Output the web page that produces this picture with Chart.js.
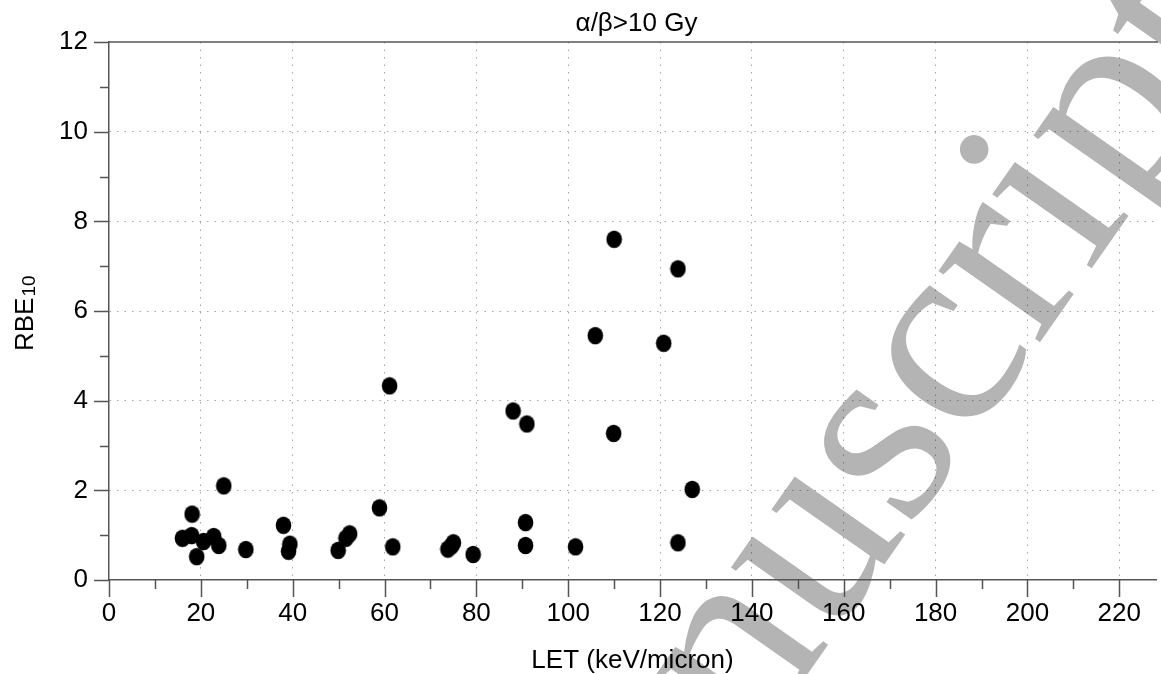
<!DOCTYPE html>
<html>
<head>
<meta charset="utf-8">
<script src="https://cdn.jsdelivr.net/npm/chart.js@4/dist/chart.umd.min.js"></script>
<style>
  html, body { margin: 0; padding: 0; background: #fff; overflow: hidden; }
  #wrap { width: 1161px; height: 674px; position: relative; }
</style>
</head>
<body>
<div id="wrap"><canvas id="chart"></canvas></div>
<script>
// LET (keV/micron) vs RBE10, alpha/beta > 10 Gy
const letValues = [16.0, 18.1, 18.0, 19.1, 20.6, 22.8, 23.9, 25.0, 29.8, 38.0, 39.4, 39.1,
  49.9, 51.6, 52.4, 58.9, 61.1, 61.8, 73.8, 74.6, 75.0, 79.3, 88.0, 91.0, 90.7, 90.7,
  101.6, 105.9, 110.0, 109.9, 120.8, 123.9, 123.9, 127.0];
const rbeValues = [0.93, 1.47, 0.99, 0.52, 0.86, 0.97, 0.77, 2.10, 0.68, 1.22, 0.80, 0.64,
  0.66, 0.93, 1.03, 1.61, 4.33, 0.74, 0.69, 0.76, 0.83, 0.57, 3.77, 3.48, 1.28, 0.77,
  0.74, 5.45, 7.60, 3.27, 5.28, 6.94, 0.83, 2.02];

const chartTitle = "α/β>10 Gy";
const xTitle = "LET (keV/micron)";
const yTitle = ["RBE", "10"];
const watermark = "Manuscript";

const FONT = "'Liberation Sans', Arial, Helvetica, sans-serif";
const AXIS = "#555";
const GRID = "rgba(0,0,0,0.35)";

// slightly tall elliptical dot like the original
function dotImage() {
  const c = document.createElement("canvas");
  c.width = 17; c.height = 19;
  const g = c.getContext("2d");
  g.fillStyle = "#000";
  g.beginPath();
  g.ellipse(8.5, 9.5, 7.8, 8.8, 0, 0, Math.PI * 2);
  g.fill();
  return c;
}

const watermarkPlugin = {
  id: "watermark",
  beforeDraw(chart) {
    const ctx = chart.ctx;
    ctx.save();
    ctx.font = "270px 'Liberation Serif', 'Times New Roman', serif";
    ctx.fillStyle = "#b4b4b4";
    ctx.textBaseline = "alphabetic";
    ctx.translate(753, 752);
    ctx.rotate(-55 * Math.PI / 180);
    ctx.fillText(watermark, -ctx.measureText("Ma").width, 0);
    ctx.restore();
  },
};

const framePlugin = {
  id: "frame",
  afterDraw(chart) {
    const ctx = chart.ctx;
    const area = chart.chartArea;
    const xs = chart.scales.x, ys = chart.scales.y;
    ctx.save();
    ctx.strokeStyle = AXIS;
    ctx.lineWidth = 1.5;
    // top frame line
    ctx.beginPath();
    ctx.moveTo(area.left, area.top);
    ctx.lineTo(area.right + 2, area.top);
    ctx.stroke();
    // tick marks, long at labelled values
    ctx.beginPath();
    xs.ticks.forEach((t) => {
      const px = Math.round(xs.getPixelForValue(t.value)) + 0.5;
      const len = t.value % 20 === 0 ? 17 : 9;
      ctx.moveTo(px, area.bottom);
      ctx.lineTo(px, area.bottom + len);
    });
    ys.ticks.forEach((t) => {
      const py = Math.round(ys.getPixelForValue(t.value)) + 0.5;
      const len = t.value % 2 === 0 ? 15 : 9;
      ctx.moveTo(area.left, py);
      ctx.lineTo(area.left - len, py);
    });
    ctx.stroke();

    // titles
    ctx.fillStyle = "#000";
    ctx.font = "26px " + FONT;
    ctx.textAlign = "center";
    ctx.textBaseline = "alphabetic";
    ctx.fillText(chartTitle, (area.left + area.right) / 2 + 4, 31);

    ctx.translate(33, 351);
    ctx.rotate(-Math.PI / 2);
    ctx.textAlign = "left";
    ctx.font = "26px " + FONT;
    ctx.fillText(yTitle[0], 0, 0);
    const w = ctx.measureText(yTitle[0]).width;
    ctx.font = "19px " + FONT;
    ctx.fillText(yTitle[1], w + 1, 2);
    ctx.restore();
  },
};

new Chart(document.getElementById("chart"), {
  type: "scatter",
  data: {
    datasets: [{
      data: letValues.map((x, i) => ({ x, y: rbeValues[i] })),
      pointStyle: dotImage(),
      backgroundColor: "#000",
      borderColor: "#000",
    }],
  },
  options: {
    responsive: true,
    maintainAspectRatio: false,
    animation: false,
    layout: { padding: { top: 42, left: 0, right: 0, bottom: 0 } },
    plugins: { legend: { display: false }, tooltip: { enabled: false } },
    scales: {
      x: {
        type: "linear",
        min: 0,
        max: 228,
        afterFit(scale) { scale.height = 94; },
        ticks: {
          stepSize: 10,
          includeBounds: false,
          autoSkip: false,
          maxRotation: 0,
          padding: 18,
          color: "#000",
          font: { family: FONT, size: 26 },
          callback: (v) => (v % 20 === 0 ? v : ""),
        },
        grid: {
          drawTicks: false,
          lineWidth: 1,
          color: (c) => (c.tick && c.tick.value % 20 === 0 && c.tick.value > 0 ? GRID : "rgba(0,0,0,0)"),
        },
        border: { display: true, color: AXIS, width: 1.5, dash: [1.5, 6] },
        title: {
          display: true,
          text: xTitle,
          color: "#000",
          font: { family: FONT, size: 26, lineHeight: 1 },
          padding: { top: 0, bottom: 0 },
        },
      },
      y: {
        type: "linear",
        min: 0,
        max: 12,
        afterFit(scale) { scale.width = 109; },
        ticks: {
          stepSize: 1,
          autoSkip: false,
          padding: 21,
          color: "#000",
          font: { family: FONT, size: 26 },
          callback: (v) => (v % 2 === 0 ? v : ""),
        },
        grid: {
          drawTicks: false,
          lineWidth: 1,
          color: (c) => (c.tick && c.tick.value % 2 === 0 && c.tick.value > 0 && c.tick.value < 12 ? GRID : "rgba(0,0,0,0)"),
        },
        border: { display: true, color: AXIS, width: 1.5, dash: [1.5, 6] },
      },
    },
  },
  plugins: [watermarkPlugin, framePlugin],
});
</script>
</body>
</html>
